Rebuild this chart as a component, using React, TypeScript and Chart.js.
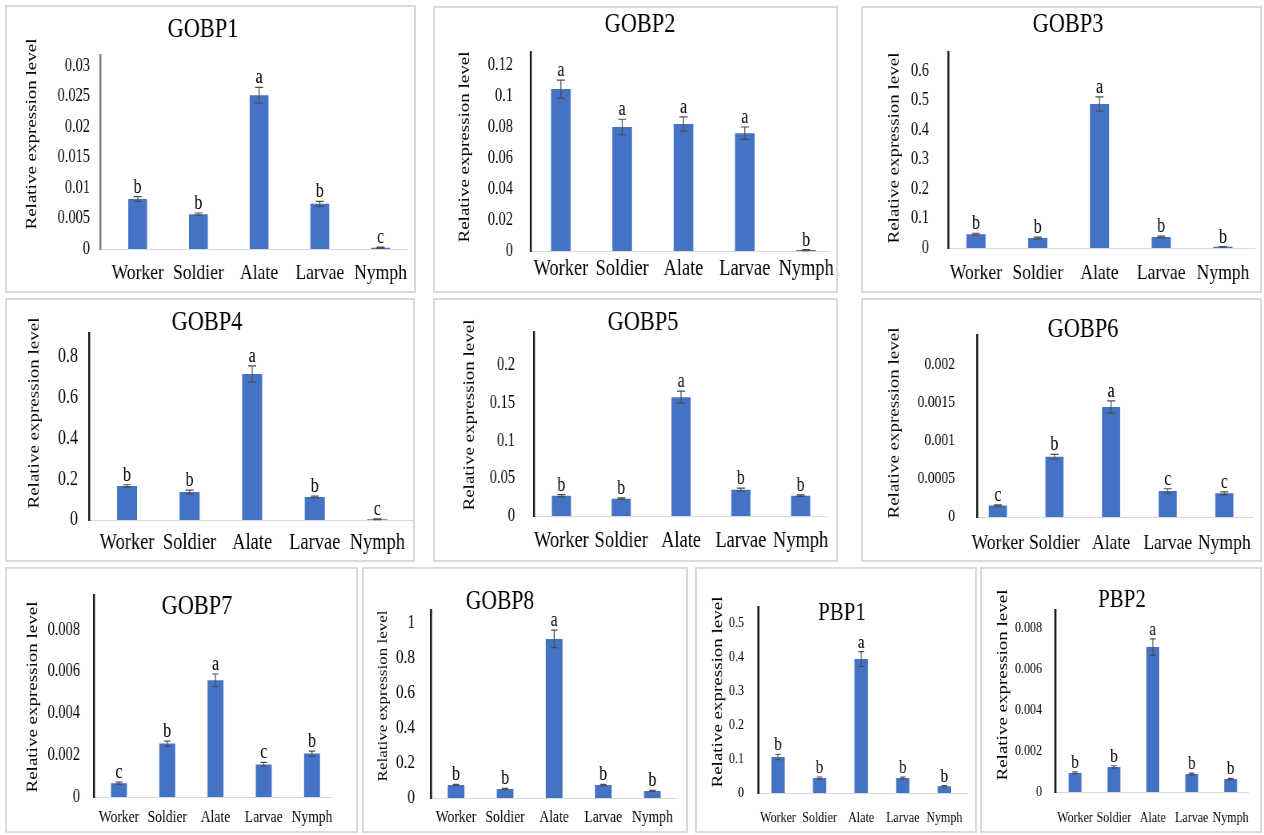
import React, { useEffect, useRef } from 'react';
import { Chart, registerables } from 'chart.js';

Chart.register(...registerables);

const FONT = "'Liberation Serif', 'Times New Roman', serif";
const SX = 0.8; // horizontal squeeze of the reference figure
const BAR_COLOR = '#4472C4';
const TEXT_COLOR = '#000';
const Y_TITLE = 'Relative expression level';

const categories = ['Worker', 'Soldier', 'Alate', 'Larvae', 'Nymph'];

const gobp1Values = [0.0082, 0.0057, 0.0252, 0.0074, 0.0002];
const gobp1Errors = [0.0004, 0.0002, 0.0013, 0.0004, 0.0001];
const gobp1Letters = ['b', 'b', 'a', 'b', 'c'];
const gobp1Ticks = [0, 0.005, 0.01, 0.015, 0.02, 0.025, 0.03];

const gobp2Values = [0.1045, 0.08, 0.082, 0.076, 0.0006];
const gobp2Errors = [0.0058, 0.005, 0.0045, 0.004, 0.0003];
const gobp2Letters = ['a', 'a', 'a', 'a', 'b'];
const gobp2Ticks = [0, 0.02, 0.04, 0.06, 0.08, 0.1, 0.12];

const gobp3Values = [0.047, 0.034, 0.488, 0.037, 0.004];
const gobp3Errors = [0.003, 0.003, 0.024, 0.003, 0.001];
const gobp3Letters = ['b', 'b', 'a', 'b', 'b'];
const gobp3Ticks = [0, 0.1, 0.2, 0.3, 0.4, 0.5, 0.6];

const gobp4Values = [0.167, 0.137, 0.717, 0.113, 0.004];
const gobp4Errors = [0.006, 0.01, 0.04, 0.004, 0.002];
const gobp4Letters = ['b', 'b', 'a', 'b', 'c'];
const gobp4Ticks = [0, 0.2, 0.4, 0.6, 0.8];

const gobp5Values = [0.027, 0.023, 0.158, 0.035, 0.027];
const gobp5Errors = [0.0015, 0.001, 0.008, 0.002, 0.001];
const gobp5Letters = ['b', 'b', 'a', 'b', 'b'];
const gobp5Ticks = [0, 0.05, 0.1, 0.15, 0.2];

const gobp6Values = [0.00015, 0.00079, 0.00144, 0.00034, 0.00031];
const gobp6Errors = [0.00001, 0.00003, 0.00008, 0.00003, 0.00002];
const gobp6Letters = ['c', 'b', 'a', 'c', 'c'];
const gobp6Ticks = [0, 0.0005, 0.001, 0.0015, 0.002];

const gobp7Values = [0.00066, 0.00256, 0.00559, 0.00156, 0.00208];
const gobp7Errors = [0.00005, 0.00012, 0.0003, 0.0001, 0.00012];
const gobp7Letters = ['c', 'b', 'a', 'c', 'b'];
const gobp7Ticks = [0, 0.002, 0.004, 0.006, 0.008];

const gobp8Values = [0.074, 0.051, 0.909, 0.074, 0.04];
const gobp8Errors = [0.004, 0.004, 0.05, 0.004, 0.003];
const gobp8Letters = ['b', 'b', 'a', 'b', 'b'];
const gobp8Ticks = [0, 0.2, 0.4, 0.6, 0.8, 1];

const pbp1Values = [0.106, 0.044, 0.394, 0.044, 0.02];
const pbp1Errors = [0.008, 0.003, 0.022, 0.003, 0.002];
const pbp1Letters = ['b', 'b', 'a', 'b', 'b'];
const pbp1Ticks = [0, 0.1, 0.2, 0.3, 0.4, 0.5];

const pbp2Values = [0.00093, 0.00122, 0.00707, 0.00088, 0.00063];
const pbp2Errors = [0.00005, 0.00006, 0.0004, 0.00004, 0.00003];
const pbp2Letters = ['b', 'b', 'a', 'b', 'b'];
const pbp2Ticks = [0, 0.002, 0.004, 0.006, 0.008];

// layout (reference pixels, relative to each panel box)
const panels = [
  { title: 'GOBP1', values: gobp1Values, errors: gobp1Errors, letters: gobp1Letters, ticks: gobp1Ticks, yMax: 0.0318,
    x0: 5, y0: 5, w: 411, h: 288, axisX: 95, axisTop: 50, zeroY: 244, xEnd: 405, firstCenter: 133, unit: 61.25,
    titleX: 198, titleY: 25, yTitleX: 27, yTitleY: 129, tickGap: 10, labelGap: 23, barFrac: 0.31,
    tickFont: 18, labelFont: 22, letterFont: 20, titleFont: 28, yTitleFont: 19, capW: 10, axisColor: '#808080' },
  { title: 'GOBP2', values: gobp2Values, errors: gobp2Errors, letters: gobp2Letters, ticks: gobp2Ticks, yMax: 0.1284,
    x0: 433, y0: 6, w: 405, h: 287, axisX: 98, axisTop: 46, zeroY: 245, xEnd: 397, firstCenter: 128, unit: 61.5,
    titleX: 207, titleY: 19, yTitleX: 32, yTitleY: 141, tickGap: 18, labelGap: 17, barFrac: 0.32,
    tickFont: 18, labelFont: 23, letterFont: 20, titleFont: 28, yTitleFont: 19, capW: 10, axisColor: '#1a1a1a' },
  { title: 'GOBP3', values: gobp3Values, errors: gobp3Errors, letters: gobp3Letters, ticks: gobp3Ticks, yMax: 0.664,
    x0: 861, y0: 6, w: 401, h: 287, axisX: 87, axisTop: 46, zeroY: 242, xEnd: 394, firstCenter: 115, unit: 61.8,
    titleX: 207, titleY: 19, yTitleX: 34, yTitleY: 142, tickGap: 19, labelGap: 24, barFrac: 0.31,
    tickFont: 18, labelFont: 22, letterFont: 20, titleFont: 28, yTitleFont: 19, capW: 10, axisColor: '#1a1a1a' },
  { title: 'GOBP4', values: gobp4Values, errors: gobp4Errors, letters: gobp4Letters, ticks: gobp4Ticks, yMax: 0.918,
    x0: 5, y0: 298, w: 410, h: 264, axisX: 84, axisTop: 35, zeroY: 222, xEnd: 407, firstCenter: 122, unit: 62.5,
    titleX: 202, titleY: 25, yTitleX: 30, yTitleY: 115, tickGap: 11, labelGap: 22, barFrac: 0.32,
    tickFont: 20, labelFont: 23, letterFont: 20, titleFont: 28, yTitleFont: 19, capW: 10, axisColor: '#1a1a1a' },
  { title: 'GOBP5', values: gobp5Values, errors: gobp5Errors, letters: gobp5Letters, ticks: gobp5Ticks, yMax: 0.244,
    x0: 433, y0: 298, w: 405, h: 264, axisX: 101, axisTop: 25, zeroY: 218, xEnd: 400, firstCenter: 129, unit: 61,
    titleX: 210, titleY: 25, yTitleX: 37, yTitleY: 117, tickGap: 19, labelGap: 24, barFrac: 0.32,
    tickFont: 18, labelFont: 23, letterFont: 20, titleFont: 28, yTitleFont: 19, capW: 10, axisColor: '#1a1a1a' },
  { title: 'GOBP6', values: gobp6Values, errors: gobp6Errors, letters: gobp6Letters, ticks: gobp6Ticks, yMax: 0.002375,
    x0: 861, y0: 298, w: 401, h: 264, axisX: 116, axisTop: 29, zeroY: 219, xEnd: 394, firstCenter: 137, unit: 57,
    titleX: 222, titleY: 32, yTitleX: 34, yTitleY: 125, tickGap: 22, labelGap: 25, barFrac: 0.32,
    tickFont: 17, labelFont: 22, letterFont: 20, titleFont: 28, yTitleFont: 19, capW: 10, axisColor: '#1a1a1a' },
  { title: 'GOBP7', values: gobp7Values, errors: gobp7Errors, letters: gobp7Letters, ticks: gobp7Ticks, yMax: 0.00966,
    x0: 5, y0: 567, w: 353, h: 266, axisX: 89, axisTop: 26, zeroY: 230, xEnd: 328, firstCenter: 114, unit: 48.3,
    titleX: 192, titleY: 40, yTitleX: 28, yTitleY: 130, tickGap: 14, labelGap: 20, barFrac: 0.33,
    tickFont: 18, labelFont: 17, letterFont: 20, titleFont: 28, yTitleFont: 19, capW: 8, axisColor: '#1a1a1a' },
  { title: 'GOBP8', values: gobp8Values, errors: gobp8Errors, letters: gobp8Letters, ticks: gobp8Ticks, yMax: 1.074,
    x0: 362, y0: 567, w: 326, h: 266, axisX: 69, axisTop: 43, zeroY: 231, xEnd: 315, firstCenter: 94, unit: 49,
    titleX: 138, titleY: 35, yTitleX: 21, yTitleY: 129, tickGap: 16, labelGap: 19, barFrac: 0.34,
    tickFont: 19, labelFont: 17, letterFont: 20, titleFont: 27, yTitleFont: 17, capW: 8, axisColor: '#1a1a1a' },
  { title: 'PBP1', values: pbp1Values, errors: pbp1Errors, letters: pbp1Letters, ticks: pbp1Ticks, yMax: 0.547,
    x0: 695, y0: 567, w: 282, h: 266, axisX: 63, axisTop: 40, zeroY: 226, xEnd: 272, firstCenter: 83, unit: 41.5,
    titleX: 147, titleY: 46, yTitleX: 23, yTitleY: 125, tickGap: 14, labelGap: 24, barFrac: 0.32,
    tickFont: 15, labelFont: 15, letterFont: 19, titleFont: 26, yTitleFont: 19, capW: 7, axisColor: '#1a1a1a' },
  { title: 'PBP2', values: pbp2Values, errors: pbp2Errors, letters: pbp2Letters, ticks: pbp2Ticks, yMax: 0.00888,
    x0: 980, y0: 567, w: 282, h: 266, axisX: 75, axisTop: 43, zeroY: 225, xEnd: 278, firstCenter: 96, unit: 40.8,
    titleX: 142, titleY: 33, yTitleX: 23, yTitleY: 118, tickGap: 13, labelGap: 25, barFrac: 0.33,
    tickFont: 15, labelFont: 15, letterFont: 19, titleFont: 26, yTitleFont: 19, capW: 7, axisColor: '#1a1a1a' },
];

function Panel({ cfg }: { cfg: any }) {
  const ref = useRef<HTMLCanvasElement | null>(null);
  const cw = Math.round(cfg.w / SX);

  useEffect(() => {
    if (!ref.current) return;
    const xMin = (cfg.axisX - cfg.firstCenter) / cfg.unit;
    const xMax = (cfg.xEnd - cfg.firstCenter) / cfg.unit;
    const font = (size: number) => ({ family: FONT, size, weight: 'normal' as const });

    const annot = {
      id: 'annot',
      afterDatasetsDraw(chart: any) {
        const ctx = chart.ctx;
        const meta = chart.getDatasetMeta(0);
        const ys = chart.scales.y;
        ctx.save();
        meta.data.forEach((bar: any, i: number) => {
          const v = cfg.values[i];
          const e = cfg.errors[i];
          const x = bar.x;
          const top = ys.getPixelForValue(v + e);
          const bot = ys.getPixelForValue(Math.max(0, v - e));
          ctx.strokeStyle = '#4d4d4d';
          ctx.lineWidth = 1.2;
          ctx.beginPath();
          ctx.moveTo(x, top);
          ctx.lineTo(x, bot);
          ctx.moveTo(x - cfg.capW / 2, top);
          ctx.lineTo(x + cfg.capW / 2, top);
          ctx.moveTo(x - cfg.capW / 2, bot);
          ctx.lineTo(x + cfg.capW / 2, bot);
          ctx.stroke();
          ctx.fillStyle = TEXT_COLOR;
          ctx.font = `${cfg.letterFont}px ${FONT}`;
          ctx.textAlign = 'center';
          ctx.textBaseline = 'alphabetic';
          ctx.fillText(cfg.letters[i], x, top - 4);
        });
        ctx.fillStyle = TEXT_COLOR;
        ctx.font = `${cfg.titleFont}px ${FONT}`;
        ctx.textAlign = 'center';
        ctx.textBaseline = 'middle';
        ctx.fillText(cfg.title, cfg.titleX / SX, cfg.titleY);
        ctx.translate(cfg.yTitleX / SX, cfg.yTitleY);
        ctx.rotate(-Math.PI / 2);
        ctx.font = `${cfg.yTitleFont}px ${FONT}`;
        ctx.fillText(Y_TITLE, 0, 0);
        ctx.restore();
      },
    };

    const chart = new Chart(ref.current, {
      type: 'bar',
      data: {
        datasets: [
          {
            data: cfg.values.map((v: number, i: number) => ({ x: i, y: v })),
            backgroundColor: BAR_COLOR,
            borderWidth: 0,
            barPercentage: cfg.barFrac,
            categoryPercentage: 1,
          },
        ],
      },
      options: {
        responsive: false,
        animation: false,
        events: [],
        layout: {
          padding: {
            left: 0,
            right: (cfg.w - cfg.xEnd) / SX,
            top: cfg.axisTop,
            bottom: 0,
          },
        },
        plugins: {
          legend: { display: false },
          tooltip: { enabled: false },
          title: { display: false },
        },
        scales: {
          x: {
            type: 'linear',
            min: xMin,
            max: xMax,
            bounds: 'data',
            offset: false,
            afterFit: (sc: any) => { sc.height = cfg.h - cfg.zeroY; },
            afterBuildTicks: (sc: any) => { sc.ticks = categories.map((_, i) => ({ value: i })); },
            grid: { display: false, drawTicks: false, offset: false },
            border: { display: true, color: '#d9d9d9', width: 1 },
            ticks: {
              callback: (v: any) => categories[Math.round(Number(v))],
              font: font(cfg.labelFont),
              color: TEXT_COLOR,
              padding: cfg.labelGap - cfg.labelFont * 0.55,
              maxRotation: 0,
              minRotation: 0,
              autoSkip: false,
            },
          },
          y: {
            type: 'linear',
            min: 0,
            max: cfg.yMax,
            afterFit: (sc: any) => { sc.width = cfg.axisX / SX; },
            afterBuildTicks: (sc: any) => { sc.ticks = cfg.ticks.map((t: number) => ({ value: t })); },
            grid: { display: false, drawTicks: false },
            border: { display: true, color: cfg.axisColor, width: 2.5 },
            ticks: {
              callback: (_v: any, i: number) => String(cfg.ticks[i]),
              font: font(cfg.tickFont),
              color: TEXT_COLOR,
              padding: cfg.tickGap / SX,
            },
          },
        },
      } as any,
      plugins: [annot],
    });
    return () => chart.destroy();
  }, []);

  return (
    <>
      <div
        style={{
          position: 'absolute',
          left: cfg.x0,
          top: cfg.y0,
          width: cfg.w,
          height: cfg.h,
          border: '2px solid #dadada',
          boxSizing: 'border-box',
        }}
      />
      <canvas
        ref={ref}
        width={cw}
        height={cfg.h}
        style={{
          position: 'absolute',
          left: cfg.x0,
          top: cfg.y0,
          width: cw + 'px',
          height: cfg.h + 'px',
          transform: `scaleX(${SX})`,
          transformOrigin: '0 0',
        }}
      />
    </>
  );
}

export default function App() {
  return (
    <div style={{ position: 'absolute', left: 0, top: 0, width: 1264, height: 835, background: '#fff', overflow: 'hidden' }}>
      {panels.map((p) => (
        <Panel key={p.title} cfg={p} />
      ))}
    </div>
  );
}
